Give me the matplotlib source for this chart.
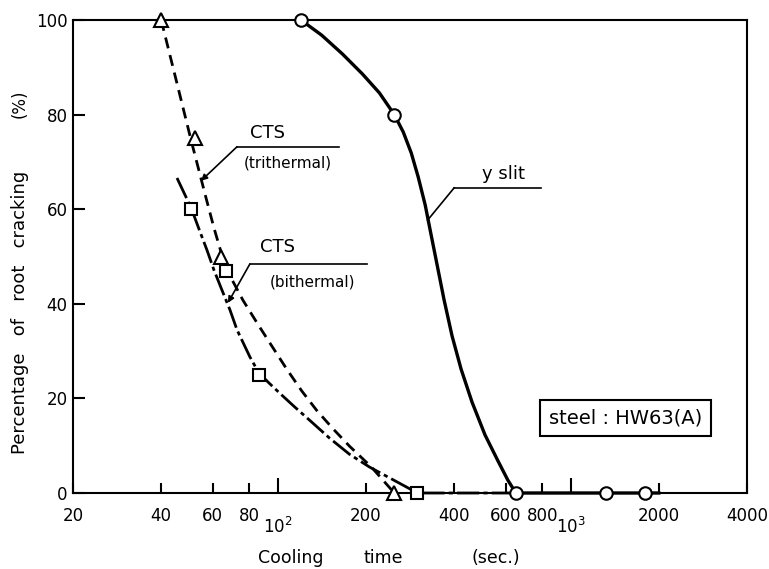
import matplotlib
matplotlib.use("Agg")
import matplotlib.pyplot as plt
from matplotlib.ticker import FixedLocator, FixedFormatter

# measured points (cooling time in sec, % root cracking)
slit_time = [120, 250, 650, 1320, 1800]
slit_pct = [100, 80, 0, 0, 0]
tri_time = [40, 52, 64, 250]
tri_pct = [100, 75, 50, 0]
bi_time = [50.5, 66.5, 86, 300]
bi_pct = [60, 47, 25, 0]

# hand drawn curves
slit_curve_t = [120, 141.2, 166.4, 194.5, 222.3, 250, 268.3, 285.6, 301.7, 318.7, 334.1,
                350.1, 369.8, 393.7, 422.6, 460.7, 509.9, 564.6, 610.6, 650, 2000]
slit_curve_p = [100, 96.8, 92.8, 88.6, 84.6, 80, 76.3, 71.9, 66.8, 60.9, 54.5,
                48.2, 40.8, 33.2, 26.2, 19.2, 12.3, 6.8, 2.7, 0, 0]
tri_curve_t = [40, 45.0, 50.6, 56.9, 60.6, 64.0, 68.7, 76.0, 85.5, 95.4, 107.3,
               120.7, 135.7, 153.8, 175.8, 208.8, 250]
tri_curve_p = [100, 87.3, 74.6, 62.4, 56.0, 51.0, 45.9, 40.8, 35.7, 31.1, 26.2,
               21.6, 17.5, 13.7, 9.9, 5.5, 0]
bi_curve_t = [45.3, 50.6, 54.3, 57.3, 60.6, 64.5, 68.7, 72.6, 80.3, 86.2, 93.2, 102.4,
              114.2, 129.5, 150.3, 175.7, 205.6, 244.2, 300, 650]
bi_curve_p = [66.6, 60.3, 55.2, 51.4, 47.1, 42.9, 38.7, 34.5, 28.8, 25.4, 23.3, 20.9,
              18.2, 15.2, 11.6, 8.2, 5.5, 3.0, 0, 0]

minor_ticks = [20, 40, 60, 80, 200, 400, 600, 800, 2000, 4000]
minor_labels = ["20", "40", "60", "80", "200", "400", "600", "800", "2000", "4000"]
major_ticks = [100, 1000]
major_labels = ["$10^2$", "$10^3$"]
y_ticks = [0, 20, 40, 60, 80, 100]

fig = plt.figure(figsize=(7.69, 5.69), dpi=100)
ax = fig.add_axes([73 / 769, 1 - 493 / 569, 674 / 769, 473 / 569])

ax.plot(slit_curve_t, slit_curve_p, color="k", lw=2.4, clip_on=False, zorder=3)
ax.plot(tri_curve_t, tri_curve_p, color="k", lw=2.0, linestyle=(0, (4, 2.5)),
        clip_on=False, zorder=3)
ax.plot(bi_curve_t, bi_curve_p, color="k", lw=2.0, linestyle=(0, (8, 1.5, 1.5, 1.5)),
        clip_on=False, zorder=3)

ax.plot(slit_time, slit_pct, "o", ms=9, mfc="white", mec="k", mew=1.5,
        clip_on=False, zorder=4)
ax.plot(tri_time, tri_pct, "^", ms=10, mfc="white", mec="k", mew=1.5,
        clip_on=False, zorder=4)
ax.plot(bi_time, bi_pct, "s", ms=9, mfc="white", mec="k", mew=1.5,
        clip_on=False, zorder=4)

ax.set_xscale("log")
ax.set_xlim(20, 4000)
ax.set_ylim(0, 100)

ax.xaxis.set_major_locator(FixedLocator(major_ticks))
ax.xaxis.set_major_formatter(FixedFormatter(major_labels))
ax.xaxis.set_minor_locator(FixedLocator(minor_ticks))
ax.xaxis.set_minor_formatter(FixedFormatter(minor_labels))
ax.set_yticks(y_ticks)

ax.tick_params(axis="x", which="minor", direction="in", length=7, width=1.5,
               pad=10, labelsize=12)
ax.tick_params(axis="x", which="major", direction="in", length=10.5, width=1.5,
               pad=17, labelsize=12)
ax.tick_params(axis="y", direction="in", length=8.5, width=1.5, pad=4, labelsize=12)
for s in ax.spines.values():
    s.set_linewidth(1.5)

# labels with leader lines
ax.text(92, 76.1, "CTS", fontsize=13, ha="center", va="center")
ax.text(108, 69.8, "(trithermal)", fontsize=11, ha="center", va="center")
ax.plot([72.6, 162.5], [73.2, 73.2], color="k", lw=1.2)
ax.annotate("", xy=(54.7, 66.0), xytext=(72.6, 73.2),
            arrowprops=dict(arrowstyle="-|>", color="k", lw=1.2, mutation_scale=9,
                            shrinkA=0, shrinkB=0))

ax.text(100, 52.0, "CTS", fontsize=13, ha="center", va="center")
ax.text(131.5, 44.6, "(bithermal)", fontsize=11, ha="center", va="center")
ax.plot([80.3, 202.3], [48.4, 48.4], color="k", lw=1.2)
ax.annotate("", xy=(67.6, 40.2), xytext=(80.3, 48.4),
            arrowprops=dict(arrowstyle="-|>", color="k", lw=1.2, mutation_scale=9,
                            shrinkA=0, shrinkB=0))

ax.text(591, 67.4, "y slit", fontsize=13, ha="center", va="center")
ax.plot([400, 791], [64.5, 64.5], color="k", lw=1.2)
ax.plot([400, 325], [64.5, 57.7], color="k", lw=1.2)

ax.text(1538, 15.9, "steel : HW63(A)", fontsize=14, ha="center", va="center",
        bbox=dict(boxstyle="square,pad=0.45", fc="white", ec="k", lw=1.5))

# axis titles
fig.text(20 / 769, 1 - 312 / 569, "Percentage   of   root   cracking", fontsize=13,
         rotation=90, ha="center", va="center")
fig.text(20 / 769, 1 - 104 / 569, "(%)", fontsize=12, rotation=90,
         ha="center", va="center")
fig.text(291 / 769, 1 - 558 / 569, "Cooling", fontsize=12.5, ha="center", va="center")
fig.text(383 / 769, 1 - 558 / 569, "time", fontsize=12.5, ha="center", va="center")
fig.text(496 / 769, 1 - 558 / 569, "(sec.)", fontsize=12.5, ha="center", va="center")

fig.savefig("out.png", dpi=100)
